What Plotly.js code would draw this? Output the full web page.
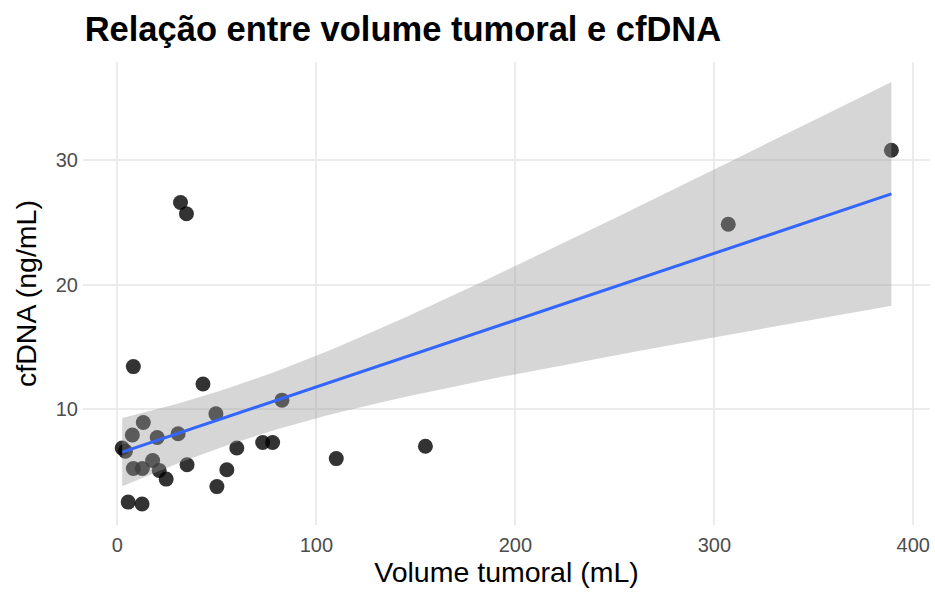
<!DOCTYPE html>
<html>
<head>
<meta charset="utf-8">
<script src="https://cdn.plot.ly/plotly-3.0.1.min.js"></script>
<style>html,body{margin:0;padding:0;background:#fff}#chart{width:935px;height:594px}</style>
</head>
<body>
<div id="chart"></div>
<script>
// Data
var volume = [8, 43, 49.5, 82.7, 13, 7.5, 20, 30.5, 2.4, 4, 60, 73, 78, 8, 12.5, 17.7, 21, 24.5, 35, 55, 50, 5.4, 12.4, 31.7, 34.7, 110, 154.8, 307, 389];
var cfdna  = [13.4, 12.0, 9.6, 10.7, 8.9, 7.9, 7.7, 8.0, 6.85, 6.6, 6.85, 7.3, 7.3, 5.2, 5.2, 5.85, 5.05, 4.35, 5.5, 5.1, 3.75, 2.5, 2.35, 26.6, 25.7, 6.0, 7.0, 24.85, 30.8];
var xTicks = [0, 100, 200, 300, 400];
var yTicks = [10, 20, 30];

// Linear fit with 95% confidence band (as geom_smooth(method = "lm"))
var n = volume.length;
var xbar = volume.reduce(function(a,b){return a+b;},0)/n;
var ybar = cfdna.reduce(function(a,b){return a+b;},0)/n;
var sxx = 0, sxy = 0;
for (var i=0;i<n;i++){ sxx += (volume[i]-xbar)*(volume[i]-xbar); sxy += (volume[i]-xbar)*(cfdna[i]-ybar); }
var b1 = sxy/sxx, b0 = ybar - b1*xbar;
var sse = 0;
for (var i=0;i<n;i++){ var r = cfdna[i]-(b0+b1*volume[i]); sse += r*r; }
var s = Math.sqrt(sse/(n-2));
var tq = 2.052; // t(0.975, df ~ 27)
var xmin = Math.min.apply(null, volume), xmax = Math.max.apply(null, volume);
var fx = [], fy = [], up = [], lo = [];
for (var k=0;k<80;k++){
  var x = xmin + (xmax-xmin)*k/79;
  var yh = b0 + b1*x;
  var se = s*Math.sqrt(1/n + (x-xbar)*(x-xbar)/sxx);
  fx.push(x); fy.push(yh); up.push(yh+tq*se); lo.push(yh-tq*se);
}
var bandX = fx.concat(fx.slice().reverse());
var bandY = up.concat(lo.slice().reverse());

var traces = [
  {x: volume, y: cfdna, type: 'scatter', mode: 'markers',
   marker: {size: 15, color: 'rgba(0,0,0,0.8)', line: {width: 0}}, hoverinfo: 'x+y'},
  {x: bandX, y: bandY, type: 'scatter', mode: 'lines', fill: 'toself',
   fillcolor: 'rgba(153,153,153,0.4)', line: {width: 0}, hoverinfo: 'skip'},
  {x: fx, y: fy, type: 'scatter', mode: 'lines', line: {color: '#3366FF', width: 3}}
];

var layout = {
  width: 935, height: 594,
  paper_bgcolor: '#fff', plot_bgcolor: '#fff',
  showlegend: false,
  font: {family: 'Liberation Sans, Arial, sans-serif'},
  margin: {l: 83, r: 5, t: 62, b: 69},
  title: {text: '<b>Relação entre volume tumoral e cfDNA</b>', x: 0.002, xref: 'paper', xanchor: 'left',
          y: 0.951, yref: 'container', yanchor: 'middle',
          font: {size: 34.5, color: '#000', family: 'Liberation Sans, Arial, sans-serif'}},
  xaxis: {range: [-17.3, 408.4], tickvals: xTicks, ticktext: xTicks.map(String),
          showgrid: true, gridcolor: '#ebebeb', gridwidth: 2, zeroline: false, showline: false,
          ticks: '', tickfont: {size: 20, color: '#4d4d4d'}, ticklabelstandoff: 6,
          title: {text: 'Volume tumoral (mL)', font: {size: 28.5, color: '#000'}, standoff: 6}},
  yaxis: {range: [0.66, 37.9], tickvals: yTicks, ticktext: yTicks.map(String),
          showgrid: true, gridcolor: '#ebebeb', gridwidth: 2, zeroline: false, showline: false,
          ticks: '', tickfont: {size: 20, color: '#4d4d4d'}, ticklabelstandoff: 4,
          title: {text: 'cfDNA (ng/mL)', font: {size: 28.5, color: '#000'}, standoff: 10}}
};

Plotly.newPlot('chart', traces, layout, {displayModeBar: false, staticPlot: true});
</script>
</body>
</html>
